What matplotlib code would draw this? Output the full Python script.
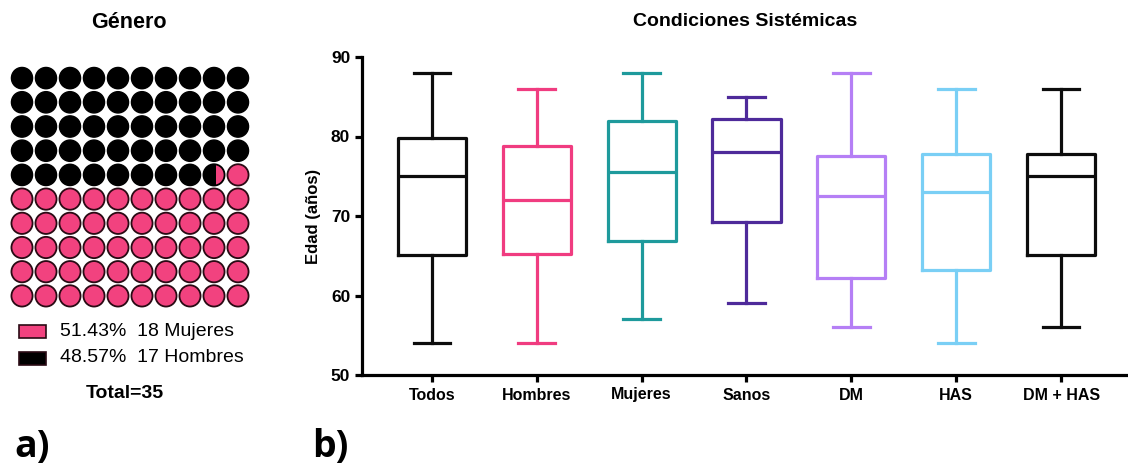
import matplotlib
matplotlib.use("Agg")
import matplotlib.pyplot as plt
from matplotlib.patches import Circle, Rectangle

plt.rcParams['font.family'] = ['Liberation Sans', 'DejaVu Sans']

# ---------------- data ----------------
gender_labels = ["Mujeres", "Hombres"]
gender_counts = [18, 17]
gender_colors = ["#F2427F", "#000000"]

groups = ["Todos", "Hombres", "Mujeres", "Sanos", "DM", "HAS", "DM + HAS"]
whis_lo = [54, 54, 57, 59, 56, 54, 56]
q1 = [65.1, 65.2, 66.9, 69.2, 62.2, 63.2, 65.1]
medians = [75, 72, 75.5, 78, 72.5, 73, 75]
q3 = [79.8, 78.8, 81.9, 82.2, 77.6, 77.8, 77.8]
whis_hi = [88, 86, 88, 85, 88, 86, 86]
box_colors = ["#0d0d0d", "#F03C80", "#1E9A9C", "#4E2A9A", "#B57FF5", "#7ACFF5", "#0d0d0d"]
yticks = [50, 60, 70, 80, 90]

W, H = 1128, 470
fig = plt.figure(figsize=(W / 100, H / 100), dpi=100)

# ---------------- a) waffle ----------------
axw = fig.add_axes([10 / W, 1 - 308 / H, 240 / W, 242 / H])
axw.set_xlim(-0.5, 9.5)
axw.set_ylim(9.5, -0.5)
axw.axis("off")

total = sum(gender_counts)
black_units = gender_counts[1] / total * 100
r = 0.44
for i in range(100):
    row, col = divmod(i, 10)
    if i + 1 <= black_units:
        axw.add_patch(Circle((col, row), r, facecolor=gender_colors[1], edgecolor="#000000", lw=1.0))
    elif i < black_units:
        frac_black = black_units - i
        c = Circle((col, row), r, facecolor=gender_colors[1], edgecolor="none")
        axw.add_patch(c)
        x0 = col - r + 2 * r * frac_black
        rect = Rectangle((x0, row - r), 2 * r, 2 * r, facecolor=gender_colors[0], edgecolor="none")
        axw.add_patch(rect)
        rect.set_clip_path(c)
        axw.add_patch(Circle((col, row), r, facecolor="none", edgecolor="#000000", lw=1.3))
    else:
        axw.add_patch(Circle((col, row), r, facecolor=gender_colors[0], edgecolor="#2a0a14", lw=1.3))

fig.text(129 / W, 1 - 22 / H, "Género", ha="center", va="center", fontsize=15.5, fontweight="bold")

# legend
pcts = [c / total * 100 for c in gender_counts]
leg_y = [331, 358]
for k in range(2):
    fig.patches.append(Rectangle((19 / W, 1 - (leg_y[k] + 7) / H), 27 / W, 13 / H,
                                 transform=fig.transFigure, facecolor=gender_colors[k],
                                 edgecolor="#2a0a14", lw=1.2))
    fig.text(60 / W, 1 - leg_y[k] / H, f"{pcts[k]:.2f}%  {gender_counts[k]} {gender_labels[k]}",
             ha="left", va="center", fontsize=14)
fig.text(125 / W, 1 - 393 / H, f"Total={total}", ha="center", va="center", fontsize=14, fontweight="bold")

fig.text(14 / W, 1 - 447 / H, "a)", ha="left", va="center", fontsize=27, fontweight="bold",
         family=["Open Sans", "DejaVu Sans"])
fig.text(312 / W, 1 - 447 / H, "b)", ha="left", va="center", fontsize=27, fontweight="bold",
         family=["Open Sans", "DejaVu Sans"])

# ---------------- b) box plots ----------------
ax = fig.add_axes([362 / W, 1 - 375 / H, (W - 362) / W, 318 / H])
for i, g in enumerate(groups):
    st = [dict(med=medians[i], q1=q1[i], q3=q3[i], whislo=whis_lo[i], whishi=whis_hi[i],
               fliers=[], label=g)]
    col = box_colors[i]
    lw = 2.3
    ax.bxp(st, positions=[i + 1], widths=0.65, capwidths=0.35, showfliers=False,
           boxprops=dict(color=col, lw=lw), whiskerprops=dict(color=col, lw=lw),
           capprops=dict(color=col, lw=lw), medianprops=dict(color=col, lw=lw),
           manage_ticks=False)

ax.set_xlim(1 - 70 / 105, 7 + 67 / 105)
ax.set_ylim(50, 90)
ax.set_yticks(yticks)
ax.set_xticks(range(1, len(groups) + 1))
ax.set_xticklabels(groups)
for s in ["top", "right"]:
    ax.spines[s].set_visible(False)
for s in ["left", "bottom"]:
    ax.spines[s].set_linewidth(2.3)
ax.tick_params(axis="both", width=2.3, length=5, labelsize=11.5)
ax.tick_params(axis="y", labelsize=12.5)
ax.tick_params(axis="x", pad=4)
for lab in ax.get_xticklabels() + ax.get_yticklabels():
    lab.set_fontweight("bold")
ax.set_ylabel("Edad (años)", fontsize=12, fontweight="bold", labelpad=7)

fig.text(745 / W, 1 - 22 / H, "Condiciones Sistémicas", ha="center", va="center",
         fontsize=14, fontweight="bold")

fig.savefig("out.png", dpi=100)
